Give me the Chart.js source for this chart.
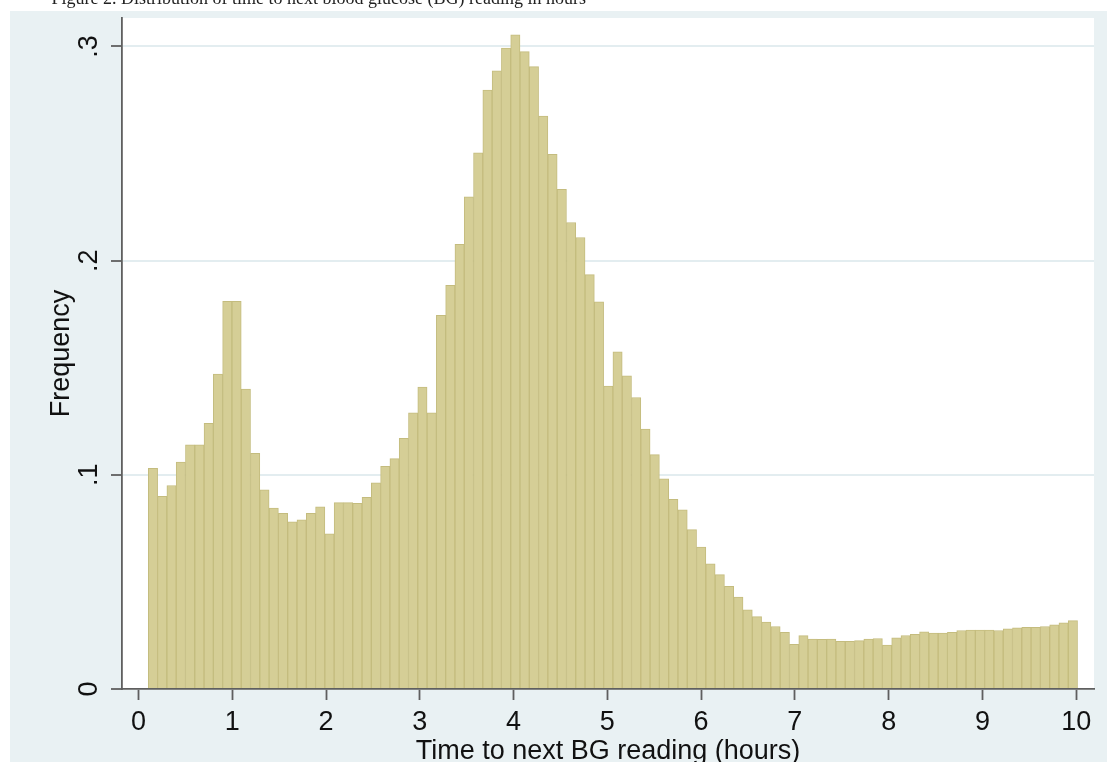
<!DOCTYPE html>
<html>
<head>
<meta charset="utf-8">
<title>Time to next BG reading</title>
<script src="https://cdn.jsdelivr.net/npm/chart.js@4.4.1/dist/chart.umd.min.js"></script>
<style>
  html, body { margin: 0; padding: 0; background: #ffffff; }
  canvas { display: block; }
</style>
</head>
<body>
<canvas id="hist" width="1107" height="762"></canvas>
<script>
// Histogram bins (hours): 100 equal-width bins starting at binStart
const binStart = 0.1045;
const binWidth = 0.0991;

// Relative frequency of each bin
const frequency = [
  0.1030, 0.0900, 0.0950, 0.1060, 0.1140, 0.1140, 0.1240, 0.1470, 0.1810, 0.1810,
  0.1400, 0.1100, 0.0930, 0.0845, 0.0820, 0.0780, 0.0790, 0.0820, 0.0850, 0.0725,
  0.0870, 0.0870, 0.0867, 0.0895, 0.0963, 0.1040, 0.1076, 0.1170, 0.1290, 0.1410,
  0.1290, 0.1745, 0.1885, 0.2076, 0.2298, 0.2504, 0.2797, 0.2886, 0.2992, 0.3054,
  0.2976, 0.2906, 0.2675, 0.2496, 0.2333, 0.2178, 0.2108, 0.1935, 0.1808, 0.1414,
  0.1574, 0.1462, 0.1361, 0.1214, 0.1094, 0.0981, 0.0886, 0.0837, 0.0744, 0.0663,
  0.0585, 0.0534, 0.0479, 0.0429, 0.0370, 0.0338, 0.0312, 0.0292, 0.0265, 0.0208,
  0.0249, 0.0233, 0.0232, 0.0233, 0.0223, 0.0223, 0.0226, 0.0233, 0.0236, 0.0205,
  0.0239, 0.0250, 0.0255, 0.0267, 0.0261, 0.0261, 0.0265, 0.0273, 0.0275, 0.0275,
  0.0275, 0.0273, 0.0281, 0.0286, 0.0288, 0.0288, 0.0292, 0.0300, 0.0309, 0.0319
];

// Axis ticks and labels
const xTicks = [0, 1, 2, 3, 4, 5, 6, 7, 8, 9, 10];
const yTicks = [0, 0.1, 0.2, 0.3];
const yTickLabels = ['0', '.1', '.2', '.3'];

const xTitle = 'Time to next BG reading (hours)';
const yTitle = 'Frequency';
const caption = 'Figure 2. Distribution of time to next blood glucose (BG) reading in hours';

// Bin midpoints for placing bars on the linear x scale
const binCentres = frequency.map((_, i) => binStart + binWidth * (i + 0.5));

const AXIS = '#5f5f5f';
const GRID = '#e3edf0';
const TEXT = '#111111';
const FONT = "'Liberation Sans', Arial, sans-serif";

// Page background, plot region and the caption line above the graph
const backdrop = {
  id: 'backdrop',
  beforeDraw(chart) {
    const { ctx, chartArea: a, width, height } = chart;
    ctx.save();
    ctx.fillStyle = '#ffffff';
    ctx.fillRect(0, 0, width, height);
    ctx.fillStyle = '#e9f1f3';
    ctx.fillRect(10, 11, width - 10, height - 11);
    ctx.fillStyle = '#ffffff';
    ctx.fillRect(a.left, a.top, a.right - a.left, a.bottom - a.top);
    ctx.fillStyle = '#222222';
    ctx.font = "18px 'Liberation Serif', 'Times New Roman', serif";
    ctx.textAlign = 'right';
    ctx.textBaseline = 'alphabetic';
    ctx.fillText(caption, 586, 3.5);
    ctx.restore();
  }
};

new Chart(document.getElementById('hist'), {
  type: 'bar',
  data: {
    datasets: [{
      label: yTitle,
      data: binCentres.map((x, i) => ({ x: x, y: frequency[i] })),
      backgroundColor: 'rgb(213, 206, 150)',
      borderColor: 'rgb(196, 188, 126)',
      borderWidth: 1,
      barPercentage: 1.0,
      categoryPercentage: 1.0
    }]
  },
  options: {
    responsive: false,
    animation: false,
    events: [],
    layout: { padding: { left: 10, top: 18, right: 13, bottom: 0 } },
    plugins: {
      legend: { display: false },
      tooltip: { enabled: false },
      title: { display: false }
    },
    scales: {
      x: {
        type: 'linear',
        offset: false,
        min: -0.176,
        max: 10.19,
        afterFit: s => {
          s.height = 73;
          s.paddingLeft = 0;
          s.paddingRight = 0;
        },
        afterBuildTicks: s => { s.ticks = xTicks.map(v => ({ value: v })); },
        grid: {
          offset: false,
          drawOnChartArea: false,
          drawTicks: true,
          tickLength: 11,
          tickColor: AXIS,
          tickWidth: 1.8
        },
        border: { display: true, color: AXIS, width: 1.8 },
        ticks: {
          color: TEXT,
          font: { family: FONT, size: 27 },
          padding: 6,
          maxRotation: 0,
          minRotation: 0,
          callback: v => String(v)
        },
        title: {
          display: true,
          text: xTitle,
          color: TEXT,
          font: { family: FONT, size: 27, lineHeight: 1.2 },
          padding: { top: 0, bottom: -6 }
        }
      },
      y: {
        type: 'linear',
        min: 0,
        max: 0.3133,
        afterFit: s => {
          s.width = 112;
          s.paddingTop = 0;
          s.paddingBottom = 0;
        },
        afterBuildTicks: s => { s.ticks = yTicks.map(v => ({ value: v })); },
        grid: {
          drawOnChartArea: true,
          drawTicks: true,
          tickLength: 11,
          tickColor: AXIS,
          tickWidth: 1.8,
          lineWidth: 2,
          color: c => (c.tick && c.tick.value === 0) ? 'rgba(0,0,0,0)' : GRID
        },
        border: { display: true, color: AXIS, width: 1.8 },
        ticks: {
          color: TEXT,
          font: { family: FONT, size: 27 },
          padding: 10,
          minRotation: 90,
          maxRotation: 90,
          crossAlign: 'center',
          callback: v => yTickLabels[yTicks.indexOf(v)]
        },
        title: {
          display: true,
          text: yTitle,
          color: TEXT,
          font: { family: FONT, size: 27, lineHeight: 1.2 },
          padding: { top: 35, bottom: 0 }
        }
      }
    }
  },
  plugins: [backdrop]
});
</script>
</body>
</html>
